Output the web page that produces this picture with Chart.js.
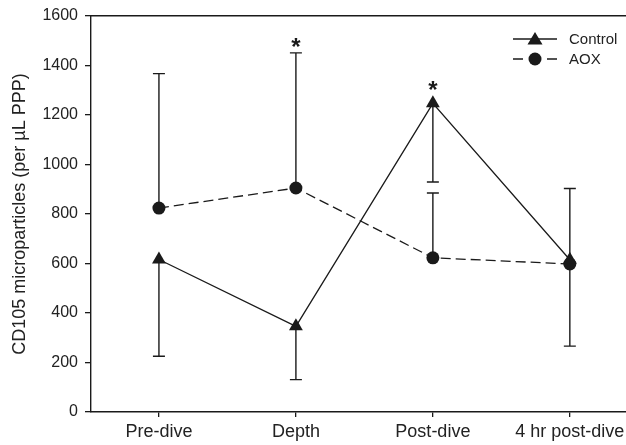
<!DOCTYPE html>
<html>
<head>
<meta charset="utf-8">
<script src="https://cdn.jsdelivr.net/npm/chart.js@4"></script>
<style>
  html, body { margin: 0; padding: 0; background: #fff; overflow: hidden; }
  #wrap { width: 626px; height: 445px; }
</style>
</head>
<body>
<div id="wrap"><canvas id="chart"></canvas></div>
<script>
// Categories and values
const categories = ["Pre-dive", "Depth", "Post-dive", "4 hr post-dive"];
const controlValues = [616, 346, 1247, 615];
const aoxValues = [824, 905, 623, 598];
// Where each one-sided error bar ends
const controlBarEnd = [225, 131, 929, 903];
const aoxBarEnd = [1367, 1451, 885, 266];
// Significance stars (y value of the star, null = none)
const starValues = [null, 1490, 1316, null];

const ink = "#1a1a1a";

// Error bars, stars and legend
const extrasPlugin = {
  id: "extras",
  beforeDatasetsDraw(chart) {
    const { ctx, scales: { x, y } } = chart;
    ctx.save();
    ctx.strokeStyle = ink;
    ctx.lineWidth = 1.4;
    ctx.setLineDash([]);
    const drawBar = (i, from, to) => {
      const px = x.getPixelForValue(i);
      const y0 = y.getPixelForValue(from);
      const y1 = y.getPixelForValue(to);
      ctx.beginPath();
      ctx.moveTo(px, y0);
      ctx.lineTo(px, y1);
      ctx.moveTo(px - 6, y1);
      ctx.lineTo(px + 6, y1);
      ctx.stroke();
    };
    categories.forEach((c, i) => {
      drawBar(i, controlValues[i], controlBarEnd[i]);
      drawBar(i, aoxValues[i], aoxBarEnd[i]);
    });
    ctx.restore();
  },
  afterDatasetsDraw(chart) {
    const { ctx, scales: { x, y } } = chart;
    ctx.save();
    ctx.fillStyle = ink;
    ctx.font = "bold 24px 'Liberation Sans', Arial, sans-serif";
    ctx.textAlign = "center";
    ctx.textBaseline = "middle";
    starValues.forEach((v, i) => {
      if (v == null) return;
      ctx.fillText("*", x.getPixelForValue(i), y.getPixelForValue(v) + 5);
    });

    // legend
    const rows = [
      { label: "Control", dash: [], style: "triangle", yPos: 39 },
      { label: "AOX", dash: [10, 24, 10], style: "circle", yPos: 59 }
    ];
    rows.forEach(r => {
      ctx.strokeStyle = ink;
      ctx.lineWidth = 1.3;
      ctx.setLineDash(r.dash);
      ctx.beginPath();
      ctx.moveTo(513, r.yPos);
      ctx.lineTo(557, r.yPos);
      ctx.stroke();
      ctx.setLineDash([]);
      ctx.fillStyle = ink;
      ctx.beginPath();
      if (r.style === "circle") {
        ctx.arc(535, r.yPos, 6.5, 0, Math.PI * 2);
      } else {
        ctx.moveTo(535, r.yPos - 7);
        ctx.lineTo(542.5, r.yPos + 5.5);
        ctx.lineTo(527.5, r.yPos + 5.5);
        ctx.closePath();
      }
      ctx.fill();
      ctx.font = "15px 'Liberation Sans', Arial, sans-serif";
      ctx.textAlign = "left";
      ctx.fillStyle = "#222";
      ctx.fillText(r.label, 569, r.yPos + 1);
    });
    ctx.restore();
  }
};

new Chart(document.getElementById("chart"), {
  type: "line",
  data: {
    datasets: [
      {
        label: "Control",
        data: controlValues.map((v, i) => ({ x: i, y: v })),
        borderColor: ink,
        backgroundColor: ink,
        borderWidth: 1.3,
        pointStyle: "triangle",
        pointRadius: 8,
        pointBorderWidth: 0,
        tension: 0
      },
      {
        label: "AOX",
        data: aoxValues.map((v, i) => ({ x: i, y: v })),
        borderColor: ink,
        backgroundColor: ink,
        borderWidth: 1.3,
        borderDash: [10, 5],
        pointStyle: "circle",
        pointRadius: 6.5,
        pointBorderWidth: 0,
        tension: 0
      }
    ]
  },
  options: {
    responsive: true,
    maintainAspectRatio: false,
    animation: false,
    devicePixelRatio: 1,
    layout: { padding: 0, autoPadding: false },
    plugins: { legend: { display: false }, tooltip: { enabled: false } },
    scales: {
      x: {
        type: "linear",
        position: "bottom",
        min: -0.496,
        max: 3.41,
        afterBuildTicks: s => { s.ticks = categories.map((c, i) => ({ value: i })); },
        afterFit: s => { s.height = 33; s.paddingLeft = 0; s.paddingRight = 0; },
        grid: { display: true, drawOnChartArea: false, drawTicks: true, tickLength: 5, color: ink, lineWidth: 1.3 },
        border: { color: ink, width: 1.4 },
        ticks: {
          callback: v => categories[v],
          autoSkip: false,
          maxRotation: 0,
          padding: 4,
          color: "#222",
          font: { family: "'Liberation Sans', Arial, sans-serif", size: 18 }
        }
      },
      x2: {
        type: "linear",
        position: "top",
        min: 0,
        max: 1,
        afterFit: s => { s.height = 16; s.paddingLeft = 0; s.paddingRight = 0; },
        grid: { display: false },
        ticks: { display: false },
        border: { display: true, color: ink, width: 1.4 }
      },
      y: {
        min: 0,
        max: 1600,
        afterFit: s => { s.width = 91; s.paddingTop = 0; s.paddingBottom = 0; },
        grid: { display: true, drawOnChartArea: false, drawTicks: true, tickLength: 6, color: ink, lineWidth: 1.3 },
        border: { color: ink, width: 1.4 },
        ticks: {
          stepSize: 200,
          padding: 7,
          callback: v => String(v),
          color: "#222",
          font: { family: "'Liberation Sans', Arial, sans-serif", size: 16 }
        },
        title: {
          display: true,
          text: "CD105 microparticles (per µL PPP)",
          color: "#222",
          padding: { top: 9, bottom: 0 },
          font: { family: "'Liberation Sans', Arial, sans-serif", size: 18 }
        }
      }
    }
  },
  plugins: [extrasPlugin]
});
</script>
</body>
</html>
